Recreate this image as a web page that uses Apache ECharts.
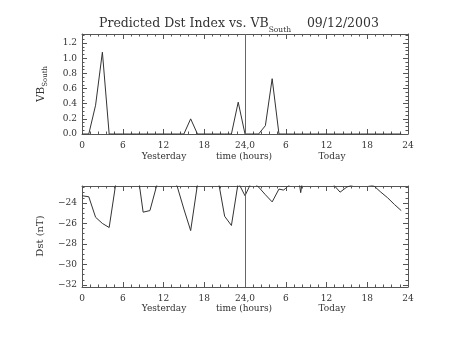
<!DOCTYPE html>
<html><head><meta charset="utf-8">
<script src="https://cdn.jsdelivr.net/npm/echarts@6/dist/echarts.min.js"></script>
<style>html,body{margin:0;padding:0;background:#fff}#c{width:453px;height:340px}</style>
</head><body><div id="c"></div>
<script>
// ---- data ----
const vbHours = [0,1,2,3,4,5,6,7,8,9,10,11,12,13,14,15,16,17,18,19,20,21,22,23,
                 24,25,26,27,28,29,30,31,32,33,34,35,36,37,38,39,40,41,42,43,44,45,46,47];
const vbValues = [0,0,0.38,1.08,0,0,0,0,0,0,0,0,0,0,0,0,0.2,0,0,0,0,0,0,0.42,
                  0,0,0,0.11,0.73,0,0,0,0,0,0,0,0,0,0,0,0,0,0,0,0,0,0,0];
const dstHours = [0,1,2,3,4,5,6,7,8,9,10,11,12,13,14,15,16,17,18,19,20,21,22,23,24,
                  25,26,27,28,29,29.7,30,31,32,32.2,32.4,33,34,35,36,37,38,39,40,41,42,43,44,45,46,47];
const dstValues = [-23.3,-23.4,-25.4,-26.0,-26.4,-22.0,-21.5,-21.5,-20.1,-24.9,-24.75,-22.3,-21.5,-21.5,-22.35,
                   -24.6,-26.7,-22.2,-21.5,-21.5,-21.6,-25.3,-26.2,-22.0,-23.3,
                   -21.9,-22.45,-23.2,-23.9,-22.65,-22.75,-22.55,-22.0,-22.1,-23.0,-22.1,
                   -22.0,-22.0,-22.0,-22.0,-22.2,-22.95,-22.45,-22.2,-22.2,-22.2,-22.35,-22.95,-23.5,-24.15,-24.75];
const xTicks = [0,6,12,18,24,30,36,42,48];
const xTickLabels = ['0','6','12','18','24,0','6','12','18','24'];
const vbTicks = [0,0.2,0.4,0.6,0.8,1.0,1.2];
const vbTickLabels = ['0.0','0.2','0.4','0.6','0.8','1.0','1.2'];
const dstTicks = [-32,-30,-28,-26,-24];
const dstTickLabels = ['\u221232','\u221230','\u221228','\u221226','\u221224'];
const vbRange = [0, 1.32];
const dstRange = [-32.2, -22.35];
const titleMain = 'Predicted Dst Index vs. VB';
const titleSub = 'South';
const titleDate = '09/12/2003';

// ---- style ----
const FONT = 'DejaVu Serif';
const AX = '#555';
const LN = '#333';

function minors(lo, hi, step, majors) {
  const out = [];
  for (let v = lo; v <= hi + 1e-9; v += step) {
    const r = Math.round(v * 1000) / 1000;
    if (!majors.some(m => Math.abs(m - r) < 1e-6)) out.push(r);
  }
  return out;
}
const vbMinor = minors(0, 1.3, 0.05, vbTicks);
const dstMinor = minors(-32, -22.5, 0.5, dstTicks);

function xAx(grid, pos, labels) {
  return {
    type: 'value', gridIndex: grid, position: pos, min: 0, max: 48, interval: 6,
    axisLine: { show: true, onZero: false, lineStyle: { color: AX, width: 1 } },
    axisTick: { show: true, inside: true, length: 5, lineStyle: { color: AX } },
    minorTick: { show: true, splitNumber: 5, length: 2.5, lineStyle: { color: AX } },
    splitLine: { show: false }, minorSplitLine: { show: false },
    axisLabel: labels ? {
      show: true, margin: 7, fontFamily: FONT, fontSize: 9, color: '#333',
      formatter: v => { const i = xTicks.indexOf(v); return i >= 0 ? xTickLabels[i] : ''; }
    } : { show: false }
  };
}
function yAx(grid, pos, range, majors, labelsArr, minorVals, major, labels) {
  return {
    type: 'value', gridIndex: grid, position: pos, min: range[0], max: range[1],
    axisLine: { show: major, onZero: false, lineStyle: { color: AX, width: 1 } },
    axisTick: { show: true, inside: true, length: major ? 5 : 2.5,
      customValues: major ? majors : minorVals, lineStyle: { color: AX } },
    splitLine: { show: false },
    axisLabel: labels ? {
      show: true, margin: 5, fontFamily: FONT, fontSize: 9, color: '#333',
      customValues: majors,
      formatter: v => { let i = majors.findIndex(m => Math.abs(m - v) < 1e-6); return i >= 0 ? labelsArr[i] : ''; }
    } : { show: false }
  };
}

const chart = echarts.init(document.getElementById('c'), null, { renderer: 'canvas' });
const vline = {
  silent: true, symbol: 'none', animation: false,
  label: { show: false },
  lineStyle: { color: '#666', width: 1, type: 'solid' },
  data: [{ xAxis: 24 }]
};
chart.setOption({
  animation: false,
  backgroundColor: '#fff',
  grid: [
    { left: 82, width: 326, top: 34, height: 100 },
    { left: 82, width: 326, top: 186, height: 101 }
  ],
  xAxis: [xAx(0, 'bottom', true), xAx(0, 'top', false), xAx(1, 'bottom', true), xAx(1, 'top', false)],
  yAxis: [
    yAx(0, 'left', vbRange, vbTicks, vbTickLabels, vbMinor, true, true),
    yAx(0, 'left', vbRange, vbTicks, vbTickLabels, vbMinor, false, false),
    yAx(0, 'right', vbRange, vbTicks, vbTickLabels, vbMinor, true, false),
    yAx(0, 'right', vbRange, vbTicks, vbTickLabels, vbMinor, false, false),
    yAx(1, 'left', dstRange, dstTicks, dstTickLabels, dstMinor, true, true),
    yAx(1, 'left', dstRange, dstTicks, dstTickLabels, dstMinor, false, false),
    yAx(1, 'right', dstRange, dstTicks, dstTickLabels, dstMinor, true, false),
    yAx(1, 'right', dstRange, dstTicks, dstTickLabels, dstMinor, false, false)
  ],
  series: [
    { type: 'line', xAxisIndex: 0, yAxisIndex: 0, showSymbol: false, clip: true,
      lineStyle: { color: LN, width: 1 }, data: vbHours.map((h, i) => [h, vbValues[i]]), markLine: vline },
    { type: 'line', xAxisIndex: 2, yAxisIndex: 4, showSymbol: false, clip: true,
      lineStyle: { color: LN, width: 1 }, data: dstHours.map((h, i) => [h, dstValues[i]]), markLine: vline }
  ],
  graphic: [
    { type: 'text', left: 99, top: 14, style: {
      text: titleMain + '{sub|' + titleSub + '}    ' + titleDate,
      font: '12.5px "' + FONT + '"', fill: '#333', lineHeight: 20,
      rich: { sub: { fontSize: 7.5, fontFamily: FONT, verticalAlign: 'bottom', lineHeight: 20, fill: '#333' } } } },
    { type: 'text', x: 41, y: 84, rotation: Math.PI / 2, style: {
      text: 'VB{sub|South}', font: '10.5px "' + FONT + '"', fill: '#333', align: 'center', verticalAlign: 'middle', lineHeight: 16,
      rich: { sub: { fontSize: 7, fontFamily: FONT, verticalAlign: 'bottom', lineHeight: 16 } } } },
    { type: 'text', x: 40, y: 236, rotation: Math.PI / 2, style: {
      text: 'Dst (nT)', font: '10px "' + FONT + '"', fill: '#333', align: 'center', verticalAlign: 'middle' } },
    { type: 'text', x: 164, y: 157, style: { text: 'Yesterday', font: '9px "' + FONT + '"', fill: '#333', align: 'center', verticalAlign: 'middle' } },
    { type: 'text', x: 244, y: 157, style: { text: 'time (hours)', font: '9px "' + FONT + '"', fill: '#333', align: 'center', verticalAlign: 'middle' } },
    { type: 'text', x: 332, y: 157, style: { text: 'Today', font: '9px "' + FONT + '"', fill: '#333', align: 'center', verticalAlign: 'middle' } },
    { type: 'text', x: 164, y: 309, style: { text: 'Yesterday', font: '9px "' + FONT + '"', fill: '#333', align: 'center', verticalAlign: 'middle' } },
    { type: 'text', x: 244, y: 309, style: { text: 'time (hours)', font: '9px "' + FONT + '"', fill: '#333', align: 'center', verticalAlign: 'middle' } },
    { type: 'text', x: 332, y: 309, style: { text: 'Today', font: '9px "' + FONT + '"', fill: '#333', align: 'center', verticalAlign: 'middle' } }
  ]
});
</script>
</body></html>
